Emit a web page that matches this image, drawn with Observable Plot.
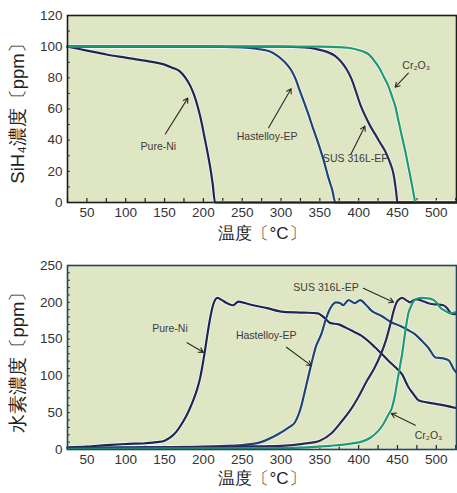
<!DOCTYPE html>
<html><head><meta charset="utf-8">
<script src="https://cdn.jsdelivr.net/npm/d3@7"></script>
<script src="https://cdn.jsdelivr.net/npm/@observablehq/plot@0.6"></script>
<style>
body{margin:0;background:#fff;font-family:"Liberation Sans",Arial,sans-serif;}
#c svg{display:block;}
</style></head>
<body><div id="c"></div>
<script>
// ---------- categories ----------
const series = ["Pure-Ni", "Hastelloy-EP", "SUS 316L-EP", "Cr₂O₃"];
const colors = ["#1b2752", "#1d4574", "#2a2856", "#1f9a74"];
const xTicks = [50, 100, 150, 200, 250, 300, 350, 400, 450, 500];
const yTicksTop = [0, 20, 40, 60, 80, 100, 120];
const yTicksBottom = [0, 50, 100, 150, 200, 250];

// ---------- top chart: SiH4 concentration ----------
const niTopX = [25,50,75,100,125,150,160,170,177,183,188,193,197,201,205,209,212,215,527];
const niTopY = [100,97.5,95,93,91,88.5,86.5,84,80,75,69,61,53,43,33,22,12,0,0];
const haTopX = [25,200,250,270,285,296,305,313,319,324,330,335,341,348,355,361,366,370,527];
const haTopY = [100,100,99.5,98.5,97,94,90,85,79,72,64,57,48,38,27,16,8,0,0];
const susTopX = [25,300,330,345,360,370,378,385,391,396,402,409,415,421,428,434,440,445,448,450,527];
const susTopY = [100,100,99.5,98.5,96.5,94,90,85,79,72,63,55,49,44,38,33,26,18,8,0,0];
const crTopX = [25,350,380,395,405,413,420,427,433,438,443,447,451,455,460,464,468,471,473,527];
const crTopY = [100,100,99.5,98.5,97,95,91,86,80,75,68,62,53,44,33,23,13,5,0,0];

// ---------- bottom chart: hydrogen concentration ----------
const niBotX = [25,50,75,100,125,140,150,157,165,174,181,187,192,196,199,202,205,209,213,218,224,230,238,245,260,282,303,330,347,357,363,374,390,403,421,438,447,456,464,470,477,488,499,510,527];
const niBotY = [3,4,6,7.5,8.5,10,12,16,24,38,52,67,82,98,115,134,155,180,198,206,203,199,196,201,197,192,187,186,185,178,172,170,162,155,139,121,112,102,85,76,67,64,62,60,56];
const haBotX = [25,100,200,250,274,295,310,318,325,332,339,345,352,358,364,371,376,380,387,395,402,409,416,430,442,453,464,472,481,490,499,508,516,522,527];
const haBotY = [2,3,4,6,10,20,30,37,55,85,116,140,157,178,193,200,199,196,203,199,203,197,189,181,173,168,162,157,148,138,125,124,121,110,103];
const susBotX = [25,150,250,300,330,350,365,378,389,400,411,420,428,435,441,445,449,452,456,461,466,471,475,484,492,500,509,514,518,522,527];
const susBotY = [2,3,4,5,8,12,22,38,53,72,94,110,128,148,171,188,200,204,206,203,200,203,204,201,198,197,196,192,186,184,184];
const crBotX = [25,200,300,363,390,405,415,425,432,438,443,447,450,453,456,460,464,468,473,480,492,500,505,512,518,523,527];
const crBotY = [1,1.5,2,5,8,11,16,25,35,47,57,75,94,112,130,160,185,196,204,206,205,200,193,188,185,186,187];

// ---------- annotations (label position, arrow tail, arrow head) ----------
const topLabelX = [142, 282, 396, 474];
const topLabelY = [36, 42, 28, 88];
const topArrow = [[151,44,180,67],[284,48,313,73],[390,31,408,49],[464,83,447,74]];
const botLabelX = [157, 281, 358, 490];
const botLabelY = [164, 155, 220, 19];
const botArrow = [[179,145,200,132],[307,139,339,114],[406,219,445,200],[473,33,442,49]];

function toRows(xs, ys, s){ return xs.map((x,i)=>({x, y: ys[i], s})); }

function chart(opts){
  const {lines, yDomain, yTicks, minorStep, height, marginTop, marginBottom, yLabel, labelsX, labelsY, arrows, xLabelDy, frameStroke} = opts;
  const data = lines.flatMap(([xs,ys],i)=>toRows(xs,ys,series[i]));
  const minorX = d3.range(25, 526, 25);
  const minorY = d3.range(yDomain[0]+minorStep, yDomain[1], minorStep);
  const tickLen = (yDomain[1]-yDomain[0]) * 4 / (height - marginTop - marginBottom);
  const ann = series.map((s,i)=>({s, x: labelsX[i], y: labelsY[i], x1: arrows[i][0], y1: arrows[i][1], x2: arrows[i][2], y2: arrows[i][3]}));
  return Plot.plot({
    width: 457, height, marginTop, marginBottom, marginLeft: 67, marginRight: 1,
    style: {fontFamily: '"Liberation Sans", Arial, sans-serif', background: "#fff"},
    x: {domain: [25, 526]},
    y: {domain: yDomain},
    color: {domain: series, range: colors},
    marks: [
      Plot.frame({fill: "#dfe6c4"}),
      Plot.ruleX(minorX, {x: d=>d, y1: yDomain[0], y2: yDomain[0]+tickLen, stroke: "#222", strokeWidth: 1.2}),
      Plot.ruleY(minorY, {y: d=>d, x1: 25, x2: 25 + 3/0.776, stroke: "#333", strokeWidth: 1}),
      Plot.line(data, {x: "x", y: "y", z: "s", stroke: "#fff", strokeWidth: 3.6, strokeOpacity: 0.75, curve: "monotone-x"}),
      Plot.line(data, {x: "x", y: "y", z: "s", stroke: "s", strokeWidth: 2.2, curve: "monotone-x"}),
      Plot.arrow(ann, {x1: "x1", y1: "y1", x2: "x2", y2: "y2", stroke: "#2a2a2a", strokeWidth: 1.1, headLength: 7}),
      Plot.text(ann, {x: "x", y: "y", text: "s", fill: "#3c3c3c", fontSize: 10.5, fontStretch: "condensed"}),
      Plot.frame({stroke: frameStroke, strokeWidth: 1.6}),
      Plot.axisX({ticks: xTicks, tickSize: 0, tickPadding: 5, fontSize: 13.5, label: null, color: "#333"}),
      Plot.axisY({ticks: yTicks, tickSize: 0, tickPadding: 5, fontSize: 13.5, label: null, color: "#333"}),
      Plot.text([yLabel], {frameAnchor: "left", textAnchor: "middle", dx: -49, rotate: -90, text: d=>d, fontSize: 18.5, fill: "#222"}),
      Plot.text(["温度〔°C〕"], {frameAnchor: "bottom", dy: xLabelDy, text: d=>d, fontSize: 17, fill: "#222"})
    ]
  });
}

const chartTop = chart({
  lines: [[niTopX,niTopY],[haTopX,haTopY],[susTopX,susTopY],[crTopX,crTopY]],
  yDomain: [0,120], yTicks: yTicksTop, minorStep: 10,
  height: 248, marginTop: 15, marginBottom: 46,
  yLabel: "SiH₄濃度〔ppm〕", labelsX: topLabelX, labelsY: topLabelY, arrows: topArrow,
  xLabelDy: 36, frameStroke: "#1d1d1d"
});
const chartBot = chart({
  lines: [[niBotX,niBotY],[haBotX,haBotY],[susBotX,susBotY],[crBotX,crBotY]],
  yDomain: [0,250], yTicks: yTicksBottom, minorStep: 10,
  height: 245, marginTop: 17, marginBottom: 44,
  yLabel: "水素濃度〔ppm〕", labelsX: botLabelX, labelsY: botLabelY, arrows: botArrow,
  xLabelDy: 34, frameStroke: "#24455e"
});
document.getElementById("c").append(chartTop, chartBot);
</script>
</body></html>
